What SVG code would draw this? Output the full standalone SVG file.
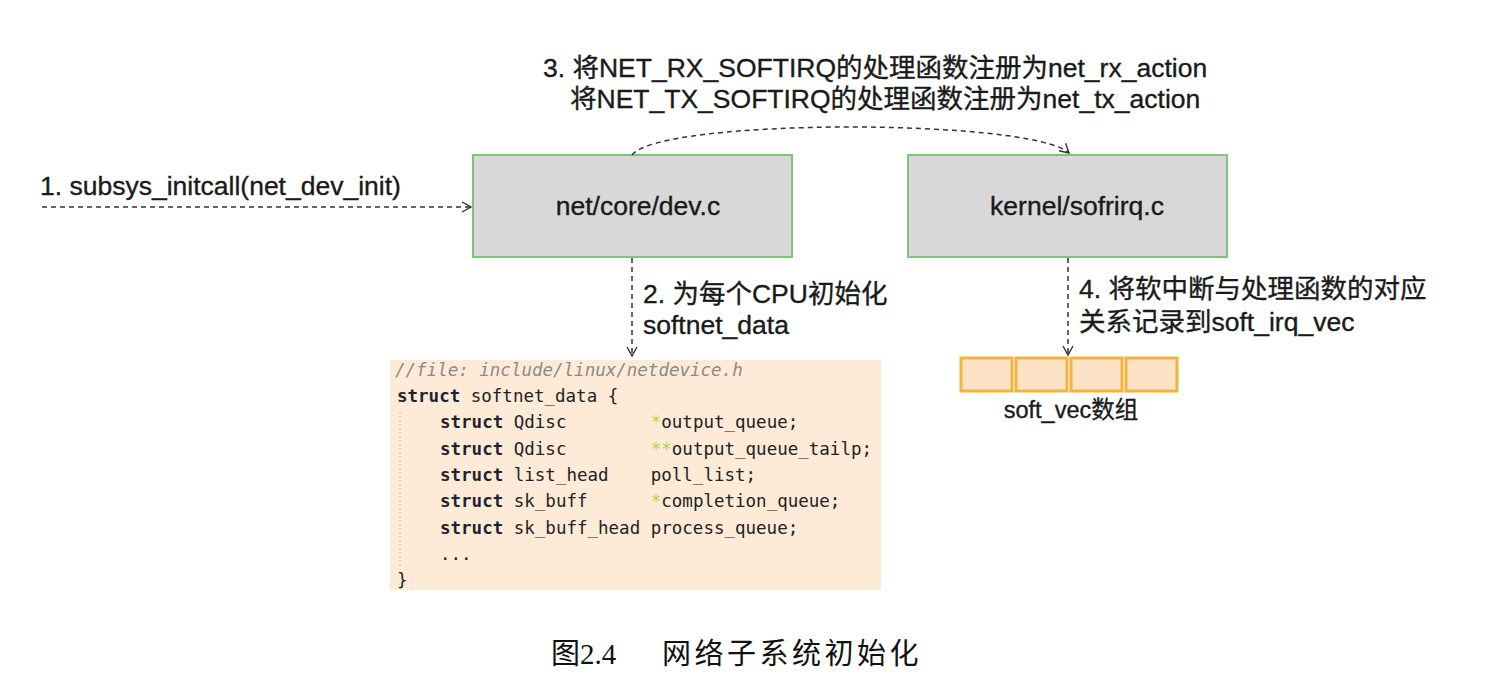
<svg xmlns="http://www.w3.org/2000/svg" width="1502" height="695" viewBox="0 0 1502 695">
<defs>
<marker id="arr" markerWidth="14" markerHeight="14" refX="11" refY="7" orient="auto" markerUnits="userSpaceOnUse">
<path d="M2,2 L11,7 L2,12" fill="none" stroke="#333" stroke-width="1.4"/>
</marker>
<style>
.lbl{font-family:"Liberation Sans","Noto Sans CJK SC",sans-serif;font-size:26.5px;fill:#1a1a1a;stroke:#1a1a1a;stroke-width:0.35px;}
.box{fill:#d8d8d8;stroke:#7cc67a;stroke-width:2;}
.conn{fill:none;stroke:#333;stroke-width:1.5;stroke-dasharray:5,4;}
.cell{fill:#fde3c6;stroke:#f4b23e;stroke-width:3;}
.code{font-family:"DejaVu Sans Mono",monospace;font-size:17.5px;fill:#222;}
.kw{font-weight:bold;fill:#1d2430;}
.star{fill:#b5d44a;}
.cap{font-family:"Liberation Serif","Noto Sans CJK SC",serif;font-size:29px;fill:#111;}
</style>
</defs>
<rect width="1502" height="695" fill="#ffffff"/>

<g id="title-label">
<text class="lbl" x="543" y="77">3. 将NET_RX_SOFTIRQ的处理函数注册为net_rx_action</text>
<text class="lbl" x="570" y="108">将NET_TX_SOFTIRQ的处理函数注册为net_tx_action</text>
</g>

<g id="node-dev">
<rect class="box" x="473" y="155" width="319" height="102"/>
<text class="lbl" x="638" y="215" text-anchor="middle">net/core/dev.c</text>
</g>

<g id="node-softirq">
<rect class="box" x="908" y="155" width="319" height="102"/>
<text class="lbl" x="1077" y="215" text-anchor="middle">kernel/sofrirq.c</text>
</g>

<g id="connectors">
<path class="conn" d="M42,207 L471,207" marker-end="url(#arr)"/>
<path class="conn" d="M632,155 C660,118 1030,118 1069,153" marker-end="url(#arr)"/>
<path class="conn" d="M632,258 L632,356" marker-end="url(#arr)"/>
<path class="conn" d="M1068,258 L1068,355" marker-end="url(#arr)"/>
</g>

<g id="label-1">
<text class="lbl" x="40" y="195">1. subsys_initcall(net_dev_init)</text>
</g>
<g id="label-2">
<text class="lbl" x="643" y="303">2. 为每个CPU初始化</text>
<text class="lbl" x="643" y="334">softnet_data</text>
</g>
<g id="label-4">
<text class="lbl" x="1079" y="298">4. 将软中断与处理函数的对应</text>
<text class="lbl" x="1079" y="331">关系记录到soft_irq_vec</text>
</g>

<g id="node-soft-vec">
<rect class="cell" x="961" y="358" width="51" height="33"/>
<rect class="cell" x="1016" y="358" width="51" height="33"/>
<rect class="cell" x="1071" y="358" width="51" height="33"/>
<rect class="cell" x="1126" y="358" width="51" height="33"/>
<text class="lbl" x="1071" y="418" text-anchor="middle" style="font-size:23.5px">soft_vec数组</text>
</g>

<g id="node-code">
<rect x="390" y="360" width="491" height="230" fill="#fdebd8"/>
<line x1="400" y1="412" x2="400" y2="566" stroke="#bbb" stroke-width="1" stroke-dasharray="2,2"/>
<text class="code" x="395" y="376" style="font-style:italic;fill:#8a8a8a">//file: include/linux/netdevice.h</text>
<text class="code" x="397" y="402"><tspan class="kw">struct</tspan> softnet_data {</text>
<text class="code" x="440" y="428" xml:space="preserve"><tspan class="kw">struct</tspan> Qdisc        <tspan class="star">*</tspan>output_queue;</text>
<text class="code" x="440" y="455" xml:space="preserve"><tspan class="kw">struct</tspan> Qdisc        <tspan class="star">**</tspan>output_queue_tailp;</text>
<text class="code" x="440" y="481" xml:space="preserve"><tspan class="kw">struct</tspan> list_head    poll_list;</text>
<text class="code" x="440" y="507" xml:space="preserve"><tspan class="kw">struct</tspan> sk_buff      <tspan class="star">*</tspan>completion_queue;</text>
<text class="code" x="440" y="534" xml:space="preserve"><tspan class="kw">struct</tspan> sk_buff_head process_queue;</text>
<text class="code" x="440" y="560">...</text>
<text class="code" x="397" y="586">}</text>
</g>

<g id="caption">
<text class="cap" x="551" y="664">图2.4<tspan x="662" style="letter-spacing:3.5px">网络子系统初始化</tspan></text>
</g>
</svg>
